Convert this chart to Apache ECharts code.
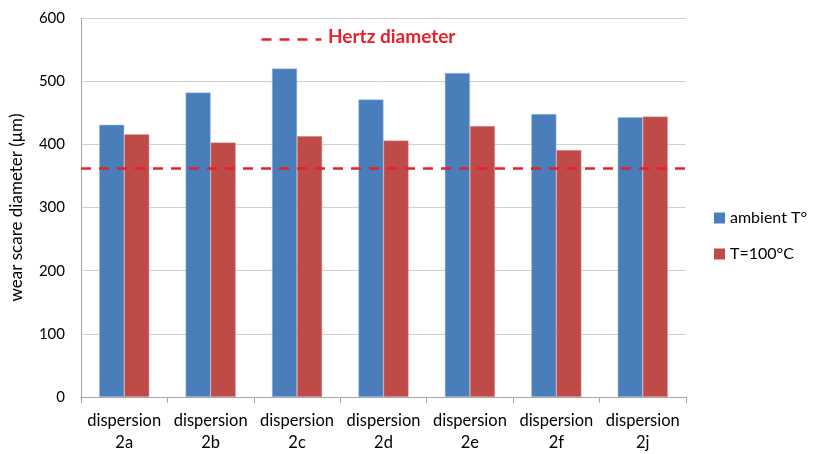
<!DOCTYPE html>
<html>
<head>
<meta charset="utf-8">
<script src="https://cdn.jsdelivr.net/npm/echarts@6/dist/echarts.min.js"></script>
<style>
html,body{margin:0;padding:0;background:#fff;}
#chart{width:818px;height:454px;}
</style>
</head>
<body>
<div id="chart"></div>
<script>
// Wear scar diameters per dispersion, at ambient temperature and at 100 °C
const categories = ['dispersion\n2a','dispersion\n2b','dispersion\n2c','dispersion\n2d','dispersion\n2e','dispersion\n2f','dispersion\n2j'];
const ambientValues = [431, 482, 520, 471, 513, 448, 443];
const hotValues = [416, 403, 413, 406, 429, 391, 444];
const hertzDiameter = 362;
const yTicks = [0, 100, 200, 300, 400, 500, 600];

const FONT = 'Lato, "Open Sans", sans-serif';
const chart = echarts.init(document.getElementById('chart'), null, {renderer: 'canvas'});

chart.setOption({
  animation: false,
  textStyle: {fontFamily: FONT},
  grid: {left: 80, right: 132, top: 18, bottom: 56},
  legend: {
    orient: 'vertical',
    left: 709, top: 205,
    itemWidth: 11, itemHeight: 11, itemGap: 20,
    icon: 'rect',
    itemStyle: {borderWidth: 0},
    textStyle: {fontSize: 16, color: '#000', fontFamily: FONT},
    data: ['ambient T°', 'T=100°C']
  },
  xAxis: {
    type: 'category',
    data: categories,
    axisLine: {lineStyle: {color: '#a6a6a6'}},
    axisTick: {show: true, length: 6, lineStyle: {color: '#a6a6a6'}},
    axisLabel: {interval: 0, fontSize: 16.5, color: '#000', lineHeight: 22, margin: 13, fontFamily: FONT}
  },
  yAxis: {
    type: 'value',
    min: yTicks[0], max: yTicks[yTicks.length - 1], interval: 100,
    name: 'wear scare diameter (μm)',
    nameLocation: 'middle', nameGap: 56, nameRotate: 90,
    nameTextStyle: {fontSize: 17, color: '#000', fontFamily: FONT},
    axisLine: {show: true, lineStyle: {color: '#a6a6a6'}},
    axisTick: {show: false},
    splitLine: {lineStyle: {color: '#d0d0d0'}},
    axisLabel: {fontSize: 15, color: '#000', margin: 16, fontFamily: FONT}
  },
  series: [
    {
      name: 'ambient T°', type: 'bar', data: ambientValues,
      barGap: '0%', barCategoryGap: '42%',
      itemStyle: {color: '#4a7ebb', borderColor: '#a8c0e0', borderWidth: 0.5},
      markLine: {
        silent: true, symbol: 'none', label: {show: false},
        lineStyle: {color: '#e8202a', type: [10, 8], width: 2.5},
        data: [{yAxis: hertzDiameter}]
      }
    },
    {
      name: 'T=100°C', type: 'bar', data: hotValues,
      itemStyle: {color: '#be4b48', borderColor: '#deaaa9', borderWidth: 0.5}
    }
  ],
  graphic: [
    {
      type: 'line', left: 259, top: 37,
      shape: {x1: 0, y1: 0, x2: 60, y2: 0},
      style: {stroke: '#e8202a', lineWidth: 2.5, lineDash: [10, 8]}
    },
    {
      type: 'text', left: 328, top: 27,
      style: {text: 'Hertz diameter', fill: '#e8202a', font: 'bold 19px ' + FONT}
    }
  ]
});
</script>
</body>
</html>
